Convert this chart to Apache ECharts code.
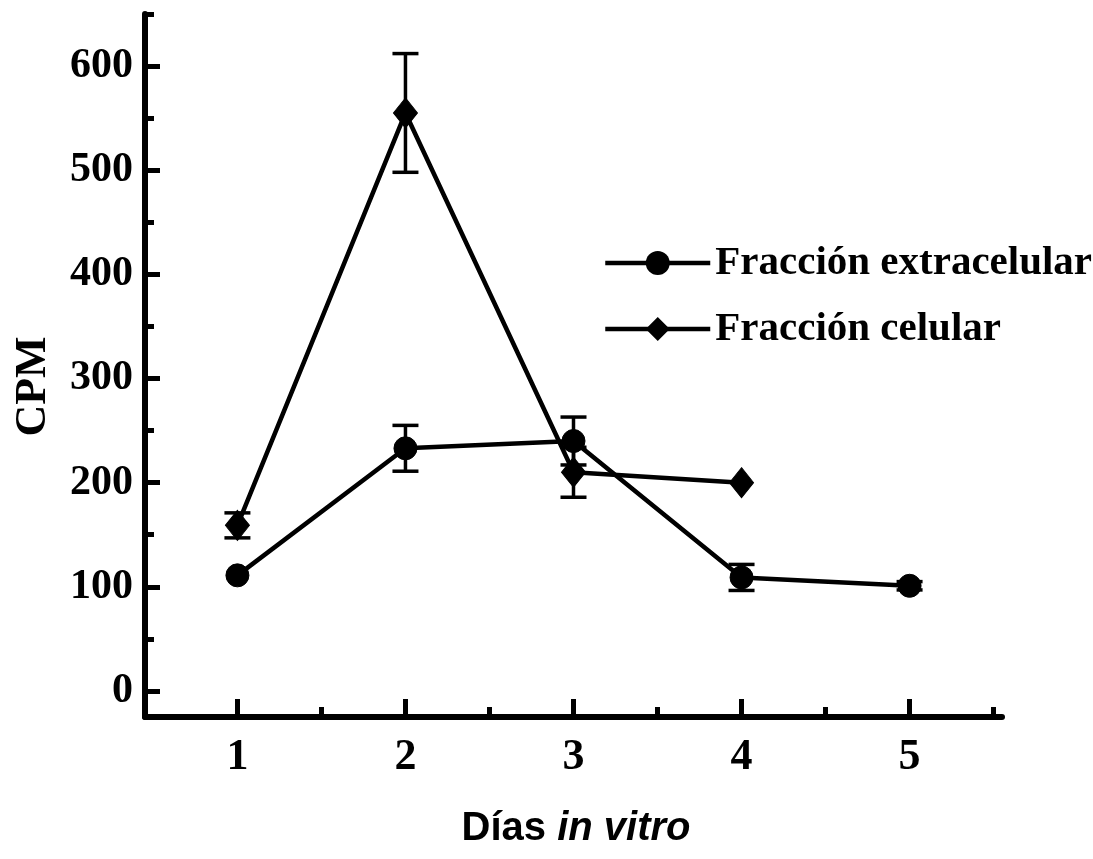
<!DOCTYPE html>
<html>
<head>
<meta charset="utf-8">
<script src="https://cdn.jsdelivr.net/npm/echarts@6/dist/echarts.min.js"></script>
<style>
html,body{margin:0;padding:0;background:#fff;}
#chart{width:1093px;height:859px;}
</style>
</head>
<body>
<div id="chart"></div>
<script>
// ---- data ----
const extraDays = [1, 2, 3, 4, 5];
const extraMean = [111, 233, 240, 109, 101];
const extraErr  = [0, 22, 23, 12.5, 4];
const celDays   = [1, 2, 3, 4];
const celMean   = [159, 555, 210, 200];
const celErr    = [12, 57, 24, 0];
const yMajorTicks = [0, 100, 200, 300, 400, 500, 600];
const yMinorTicks = [50, 150, 250, 350, 450, 550, 650];
const xMajorTicks = [1, 2, 3, 4, 5];
const xMinorTicks = [1.5, 2.5, 3.5, 4.5, 5.5];
const seriesNames = ['Fracción extracelular', 'Fracción celular'];

const serif = '"Liberation Serif", "Times New Roman", serif';
const sans = '"Liberation Sans", Arial, sans-serif';

function pairs(xs, ys) { return xs.map((x, i) => [x, ys[i]]); }
function errData(xs, ys, es) {
  return xs.map((x, i) => [x, ys[i] - es[i], ys[i] + es[i]]).filter((d, i) => es[i] > 0);
}
function renderErr(params, api) {
  const x = api.value(0);
  const lo = api.coord([x, api.value(1)]);
  const hi = api.coord([x, api.value(2)]);
  const hw = 13;
  const st = { stroke: '#000', lineWidth: 3.5 };
  return {
    type: 'group',
    children: [
      { type: 'line', shape: { x1: hi[0], y1: hi[1], x2: lo[0], y2: lo[1] }, style: st },
      { type: 'line', shape: { x1: hi[0] - hw, y1: hi[1], x2: hi[0] + hw, y2: hi[1] }, style: st },
      { type: 'line', shape: { x1: lo[0] - hw, y1: lo[1], x2: lo[0] + hw, y2: lo[1] }, style: st }
    ]
  };
}

const chart = echarts.init(document.getElementById('chart'), null, { renderer: 'canvas' });
const xBase = { type: 'value', min: 0.45, max: 5.55, position: 'bottom', offset: 0, splitLine: { show: false } };
const yBase = { type: 'value', min: -25, max: 650, position: 'left', offset: 0, splitLine: { show: false } };

chart.setOption({
  backgroundColor: '#fff',
  animation: false,
  grid: { left: 145, right: 91, top: 14, bottom: 142, containLabel: false, outerBoundsMode: 'none' },
  legend: {
    data: seriesNames,
    orient: 'vertical',
    left: 603, top: 242, padding: 0,
    itemWidth: 105, itemHeight: 30, itemGap: 24,
    lineStyle: { color: '#000', width: 4.5 },
    textStyle: { fontFamily: serif, fontWeight: 'bold', fontSize: 41, color: '#000', lineHeight: 42 }
  },
  xAxis: [
    Object.assign({}, xBase, {
      axisLine: { show: true, onZero: false, lineStyle: { color: '#000', width: 6 } },
      axisTick: { show: true, inside: true, length: 18, customValues: xMajorTicks, lineStyle: { color: '#000', width: 5 } },
      axisLabel: { show: true, customValues: xMajorTicks, margin: 19, fontFamily: serif, fontWeight: 'bold', fontSize: 44, color: '#000' },
      name: '{a|Días\u00a0}{b|in vitro}',
      nameLocation: 'middle', nameGap: 92,
      nameTextStyle: {
        padding: [0, 0, 0, 5],
        rich: {
          a: { fontFamily: sans, fontWeight: 'bold', fontSize: 40, color: '#000' },
          b: { fontFamily: sans, fontWeight: 'bold', fontStyle: 'italic', fontSize: 40, color: '#000' }
        }
      }
    }),
    Object.assign({}, xBase, {
      axisLine: { show: false, onZero: false },
      axisTick: { show: true, inside: true, length: 10, customValues: xMinorTicks, lineStyle: { color: '#000', width: 5 } },
      axisLabel: { show: false }
    })
  ],
  yAxis: [
    Object.assign({}, yBase, {
      axisLine: { show: true, onZero: false, lineStyle: { color: '#000', width: 6 } },
      axisTick: { show: true, inside: true, length: 15, customValues: yMajorTicks, lineStyle: { color: '#000', width: 5 } },
      axisLabel: { show: true, customValues: yMajorTicks, margin: 12, fontFamily: serif, fontWeight: 'bold', fontSize: 42, color: '#000' },
      name: 'CPM', nameLocation: 'middle', nameGap: 89, nameRotate: 90,
      nameTextStyle: { fontFamily: serif, fontWeight: 'bold', fontSize: 44, color: '#000', padding: [0, 42, 0, 0] }
    }),
    Object.assign({}, yBase, {
      axisLine: { show: false, onZero: false },
      axisTick: { show: true, inside: true, length: 9, customValues: yMinorTicks, lineStyle: { color: '#000', width: 5 } },
      axisLabel: { show: false }
    })
  ],
  series: [
    {
      name: 'err-extra', type: 'custom', xAxisIndex: 0, yAxisIndex: 0, z: 1,
      renderItem: renderErr, data: errData(extraDays, extraMean, extraErr)
    },
    {
      name: 'err-cel', type: 'custom', xAxisIndex: 0, yAxisIndex: 0, z: 1,
      renderItem: renderErr, data: errData(celDays, celMean, celErr)
    },
    {
      name: seriesNames[0], type: 'line', xAxisIndex: 0, yAxisIndex: 0, z: 3,
      data: pairs(extraDays, extraMean),
      symbol: 'circle', symbolSize: 23, showAllSymbol: true,
      lineStyle: { color: '#000', width: 4.5 },
      itemStyle: { color: '#000', borderColor: '#000' }
    },
    {
      name: seriesNames[1], type: 'line', xAxisIndex: 0, yAxisIndex: 0, z: 2,
      data: pairs(celDays, celMean),
      symbol: 'diamond', symbolSize: [24, 30], showAllSymbol: true,
      lineStyle: { color: '#000', width: 4.5 },
      itemStyle: { color: '#000', borderColor: '#000' }
    }
  ]
});
</script>
</body>
</html>
